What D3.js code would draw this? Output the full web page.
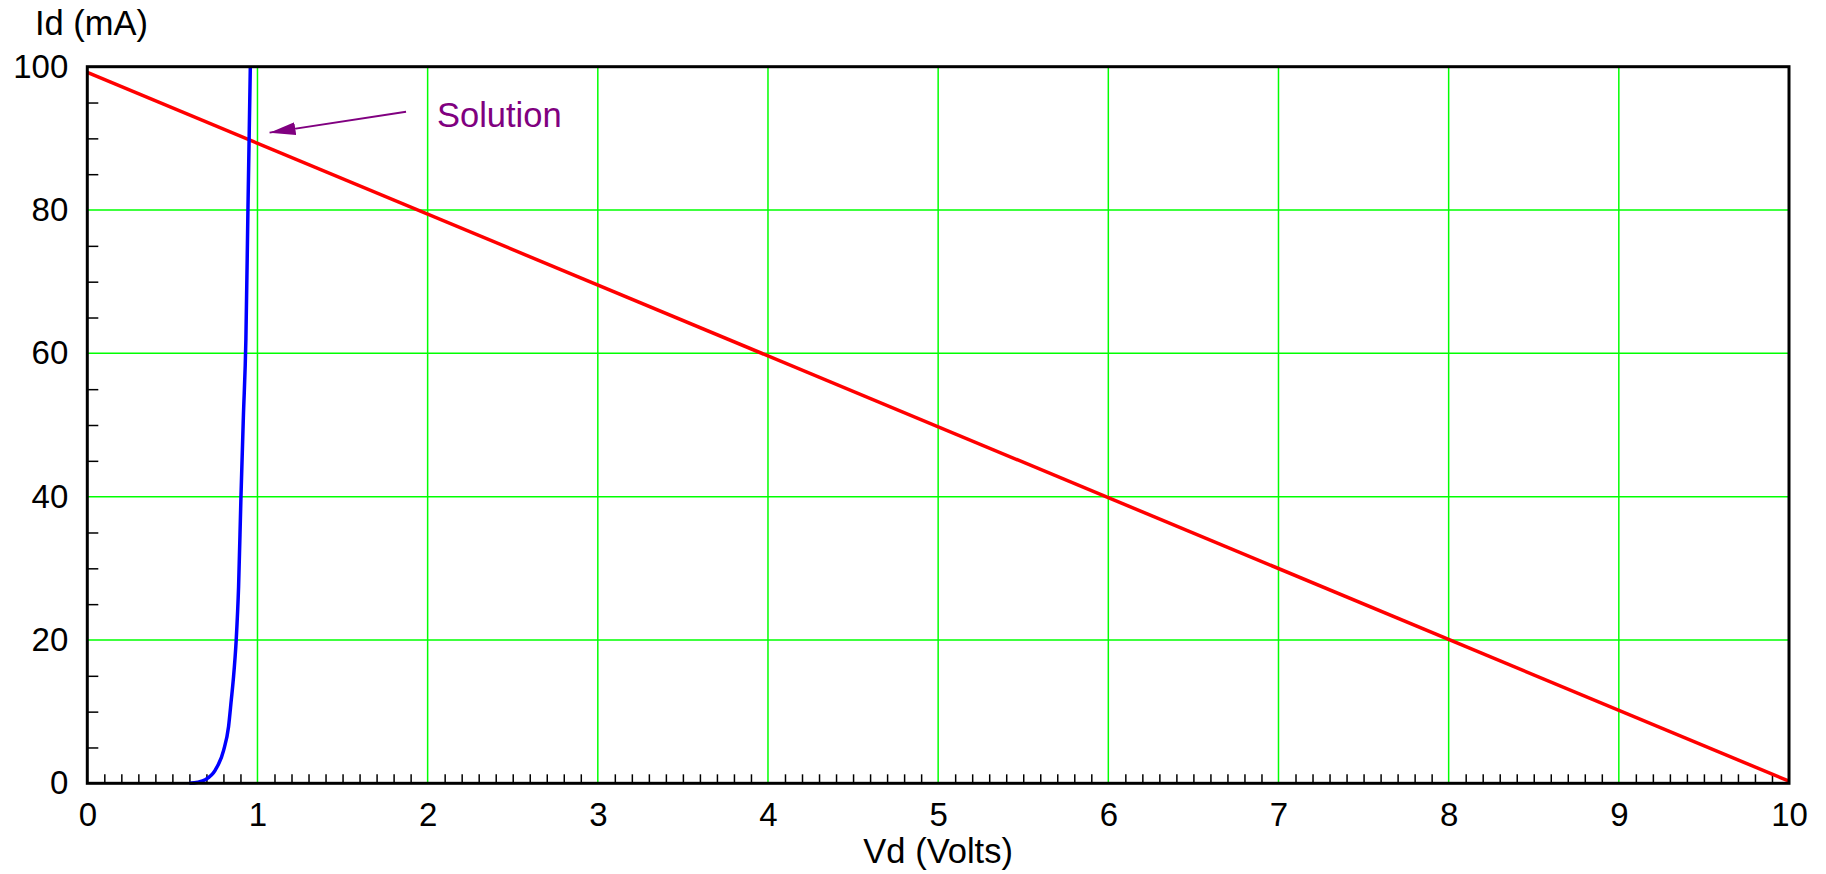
<!DOCTYPE html>
<html>
<head>
<meta charset="utf-8">
<script src="https://cdn.jsdelivr.net/npm/d3@7"></script>
<style>
  body { margin: 0; background: #fff; }
  text { font-family: "Liberation Sans", Arial, sans-serif; }
</style>
</head>
<body>
<script>
// consts / layout
const width = 1826;
const height = 874;
const margin = {top: 66.7, right: 37, bottom: 90.7, left: 87.3};
const tickFont = 33;
const titleFont = 34.5;

// data
const xTickValues = [0, 1, 2, 3, 4, 5, 6, 7, 8, 9, 10];
const yTickValues = [0, 20, 40, 60, 80, 100];
const xGridValues = [1, 2, 3, 4, 5, 6, 7, 8, 9];
const yGridValues = [20, 40, 60, 80];

// diode curve (Vd in volts, Id in mA)
const diodeV = [0.60, 0.65, 0.693, 0.752, 0.801, 0.830, 0.846, 0.858, 0.875, 0.889, 0.903, 0.917, 0.932, 0.944, 0.958];
const diodeI = [0, 0.15, 0.5, 1.85, 4.6, 7.9, 11.6, 14.5, 20, 27.4, 40, 51, 62, 80, 100];

// load line
const loadV = [0, 10];
const loadI = [99.2, 0.3];

// annotation
const arrowFrom = [1.873, 93.7];
const arrowTo = [1.071, 90.8];
const labelAt = [2.055, 91.6];
const labelText = "Solution";

// scales
const xScale = d3.scaleLinear()
    .domain([0, 10])
    .range([margin.left, width - margin.right]);

const yScale = d3.scaleLinear()
    .domain([0, 100])
    .range([height - margin.bottom, margin.top]);

// svg
const svg = d3.select("body")
    .append("svg")
    .attr("width", width)
    .attr("height", height);

svg.append("defs").append("marker")
    .attr("id", "arrowhead")
    .attr("markerUnits", "userSpaceOnUse")
    .attr("viewBox", "0 0 26 13")
    .attr("refX", 26)
    .attr("refY", 6.5)
    .attr("markerWidth", 26)
    .attr("markerHeight", 13)
    .attr("orient", "auto")
    .append("path")
    .attr("d", "M0,0 L26,6.5 L0,13 Z")
    .attr("fill", "#800080");

// grid
svg.selectAll(".xgrid")
    .data(xGridValues)
    .enter()
    .append("line")
    .attr("x1", d => xScale(d))
    .attr("x2", d => xScale(d))
    .attr("y1", yScale(0))
    .attr("y2", yScale(100))
    .attr("stroke", "#00ff00")
    .attr("stroke-width", 1.5);

svg.selectAll(".ygrid")
    .data(yGridValues)
    .enter()
    .append("line")
    .attr("x1", xScale(0))
    .attr("x2", xScale(10))
    .attr("y1", d => yScale(d))
    .attr("y2", d => yScale(d))
    .attr("stroke", "#00ff00")
    .attr("stroke-width", 1.5);

// minor ticks (inward)
const xMinor = d3.range(1, 100).map(i => i / 10).filter((d, i) => (i + 1) % 10 !== 0);
const yMinor = d3.range(5, 100, 5).filter(d => d % 20 !== 0);

svg.append("g")
    .attr("transform", "translate(0," + yScale(0) + ")")
    .call(d3.axisBottom(xScale).tickValues(xMinor).tickSize(-9).tickFormat(""))
    .call(g => g.select(".domain").remove())
    .selectAll("line")
    .attr("stroke-width", 1.5);

svg.append("g")
    .attr("transform", "translate(" + xScale(0) + ",0)")
    .call(d3.axisLeft(yScale).tickValues(yMinor).tickSize(-11).tickFormat(""))
    .call(g => g.select(".domain").remove())
    .selectAll("line")
    .attr("stroke-width", 1.5);

// tick labels
const bottomAxis = d3.axisBottom(xScale)
    .tickValues(xTickValues)
    .tickSize(0)
    .tickPadding(19)
    .tickFormat(d3.format("d"));

const leftAxis = d3.axisLeft(yScale)
    .tickValues(yTickValues)
    .tickSize(0)
    .tickPadding(19)
    .tickFormat(d3.format("d"));

svg.append("g")
    .attr("transform", "translate(0," + yScale(0) + ")")
    .call(bottomAxis)
    .call(g => g.select(".domain").remove())
    .selectAll("text")
    .attr("font-family", "Liberation Sans, Arial, sans-serif")
    .attr("font-size", tickFont)
    .attr("fill", "#000");

svg.append("g")
    .attr("transform", "translate(" + xScale(0) + ",0)")
    .call(leftAxis)
    .call(g => g.select(".domain").remove())
    .selectAll("text")
    .attr("font-family", "Liberation Sans, Arial, sans-serif")
    .attr("font-size", tickFont)
    .attr("fill", "#000");

// lines
const line = d3.line()
    .x(d => xScale(d[0]))
    .y(d => yScale(d[1]));

svg.append("path")
    .datum(loadV.map((v, i) => [v, loadI[i]]))
    .attr("d", line)
    .attr("fill", "none")
    .attr("stroke", "#ff0000")
    .attr("stroke-width", 3.5);

svg.append("path")
    .datum(diodeV.map((v, i) => [v, diodeI[i]]))
    .attr("d", line.curve(d3.curveMonotoneX))
    .attr("fill", "none")
    .attr("stroke", "#0000ff")
    .attr("stroke-width", 3.5);

// frame
svg.append("rect")
    .attr("x", xScale(0))
    .attr("y", yScale(100))
    .attr("width", xScale(10) - xScale(0))
    .attr("height", yScale(0) - yScale(100))
    .attr("fill", "none")
    .attr("stroke", "#000")
    .attr("stroke-width", 3);

// annotation
svg.append("line")
    .attr("x1", xScale(arrowFrom[0]))
    .attr("y1", yScale(arrowFrom[1]))
    .attr("x2", xScale(arrowTo[0]))
    .attr("y2", yScale(arrowTo[1]))
    .attr("stroke", "#800080")
    .attr("stroke-width", 2)
    .attr("marker-end", "url(#arrowhead)");

svg.append("text")
    .attr("x", xScale(labelAt[0]))
    .attr("y", yScale(labelAt[1]))
    .attr("font-size", titleFont)
    .attr("fill", "#800080")
    .text(labelText);

// axis titles
svg.append("text")
    .attr("x", (xScale(0) + xScale(10)) / 2)
    .attr("y", 863)
    .attr("text-anchor", "middle")
    .attr("font-size", titleFont)
    .text("Vd (Volts)");

svg.append("text")
    .attr("x", 35)
    .attr("y", 35)
    .attr("font-size", titleFont)
    .text("Id (mA)");
</script>
</body>
</html>
